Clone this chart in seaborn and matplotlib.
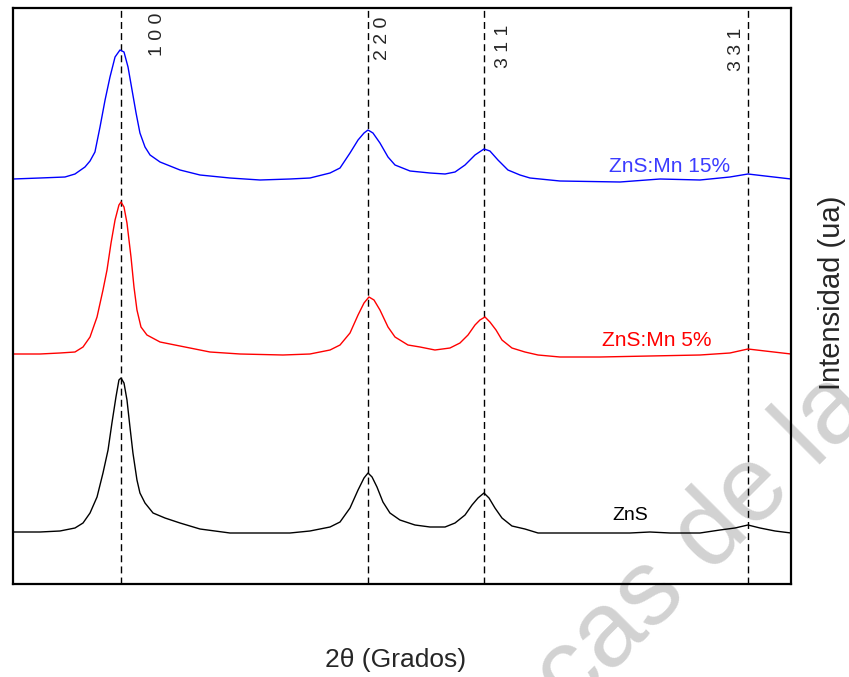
import matplotlib
matplotlib.use("Agg")
import matplotlib.pyplot as plt
import numpy as np
import pandas as pd
import seaborn as sns

# --- Diffraction patterns (2-theta in degrees, intensity in arbitrary units) ---
tt_zns = [20.00, 22.08, 23.62, 24.78, 25.40, 25.94, 26.48, 26.94, 27.33, 27.63,
          27.94, 28.17, 28.33, 28.56, 28.79, 29.02, 29.25, 29.56, 29.79, 30.18,
          30.80, 31.72, 32.88, 34.42, 36.73, 39.05, 41.36, 42.90, 44.45, 45.22,
          45.99, 46.61, 47.07, 47.38, 47.69, 48.07, 48.53, 49.07, 49.84, 51.00,
          52.16, 53.32, 54.09, 54.86, 55.40, 55.86, 56.32, 56.71, 57.17, 57.71,
          58.48, 59.48, 60.49, 62.95, 65.27, 67.58, 69.12, 70.67, 72.98, 74.52,
          75.68, 76.68, 77.61, 78.77, 80.00]
i_zns = [52, 52, 53, 56, 61, 71, 87, 111, 134, 161,
         187, 204, 206, 201, 184, 157, 131, 104, 91, 81,
         71, 66, 61, 55, 51, 51, 51, 53, 57, 62,
         76, 94, 106, 111, 107, 97, 82, 71, 64, 59,
         57, 57, 61, 69, 79, 86, 91, 86, 76, 66,
         58, 55, 51, 51, 51, 51, 52, 51, 51, 54,
         56, 59, 56, 53, 51]

tt_mn5 = [20.00, 22.08, 23.62, 24.78, 25.40, 25.94, 26.48, 26.94, 27.25, 27.56,
          27.87, 28.17, 28.33, 28.56, 28.79, 29.10, 29.33, 29.56, 29.87, 30.33,
          31.34, 32.49, 33.65, 35.19, 37.51, 40.82, 42.90, 44.45, 45.22, 45.99,
          46.61, 47.07, 47.45, 47.84, 48.30, 48.92, 49.46, 50.46, 51.39, 52.54,
          53.70, 54.47, 55.09, 55.63, 56.01, 56.40, 56.78, 57.25, 57.71, 58.48,
          59.48, 60.49, 62.18, 65.27, 69.12, 72.98, 75.29, 76.68, 78.00, 80.00]
i_mn5 = [50, 50, 51, 52, 57, 67, 87, 114, 134, 161,
         184, 199, 202, 197, 181, 147, 117, 94, 77, 69,
         62, 59, 56, 52, 50, 49, 50, 54, 59, 71,
         89, 101, 107, 104, 94, 77, 67, 59, 57, 54,
         56, 61, 69, 79, 84, 87, 82, 74, 64, 56,
         52, 49, 47, 47, 48, 49, 51, 55, 53, 50]

tt_mn15 = [20.00, 22.08, 24.01, 24.78, 25.55, 25.94, 26.32, 26.71, 27.10, 27.48,
           27.87, 28.25, 28.56, 28.87, 29.18, 29.49, 29.79, 30.18, 30.57, 31.34,
           32.88, 34.42, 36.73, 39.05, 41.36, 42.90, 44.45, 45.22, 45.99, 46.61,
           47.07, 47.38, 47.76, 48.30, 48.92, 49.46, 50.62, 52.16, 53.32, 54.09,
           54.86, 55.63, 56.32, 56.78, 57.40, 58.17, 59.10, 59.87, 62.18, 66.81,
           69.90, 72.98, 75.29, 76.68, 78.00, 80.00]
i_mn15 = [45, 46, 47, 50, 57, 63, 72, 97, 124, 147,
          167, 174, 172, 157, 134, 111, 91, 77, 69, 62,
          54, 49, 46, 44, 45, 46, 51, 56, 71, 84,
          91, 94, 91, 81, 67, 59, 53, 51, 50, 52,
          59, 69, 75, 73, 64, 54, 49, 46, 43, 42,
          45, 44, 47, 50, 48, 45]

samples = ["ZnS", "ZnS:Mn 5%", "ZnS:Mn 15%"]
colors = ["black", "red", "blue"]

# Reflections marked with dashed guides
hkl_labels = ["1 0 0", "2 2 0", "3 1 1", "3 3 1"]
hkl_positions = [28.33, 47.38, 56.32, 76.68]

sns.set_style("white")
plt.rcParams["font.family"] = ["Liberation Sans", "DejaVu Sans"]

fig = plt.figure(figsize=(8.49, 6.77), dpi=100)
ax = fig.add_axes([13 / 849, 1 - 584 / 677, 778 / 849, 576 / 677])

stack_offset = [0, 180, 360]
patterns = [(tt_zns, i_zns), (tt_mn5, i_mn5), (tt_mn15, i_mn15)]
frames = []
for name, (tt, inten), off in zip(samples, patterns, stack_offset):
    frames.append(pd.DataFrame({"2theta": tt,
                                "intensity": np.asarray(inten) + off,
                                "sample": name}))
df = pd.concat(frames, ignore_index=True)

sns.lineplot(data=df, x="2theta", y="intensity", hue="sample",
             palette=dict(zip(samples, colors)), estimator=None,
             linewidth=1.0, legend=False, ax=ax)

for pos in hkl_positions:
    ax.axvline(pos, color="black", linewidth=1.0, linestyle=(0, (5, 3)), zorder=1.5)

# hkl annotations next to each guide
hkl_text_pos = [(31.18, 550), (48.53, 546), (57.79, 538), (75.76, 535)]
for lab, (xt, yt) in zip(hkl_labels, hkl_text_pos):
    ax.text(xt, yt, lab, rotation=90, ha="center", va="center", fontsize=14)

# sample names
ax.text(70.67, 417, "ZnS:Mn 15%", color="#3b3bff", fontsize=15, ha="center", va="center")
ax.text(69.66, 244, "ZnS:Mn 5%", color="red", fontsize=15, ha="center", va="center")
ax.text(67.58, 69, "ZnS", color="black", fontsize=14, ha="center", va="center")

ax.set_xlim(20, 80)
ax.set_ylim(0, 576)
ax.set_xticks([])
ax.set_yticks([])
ax.set_xlabel("")
ax.set_ylabel("")
for sp in ax.spines.values():
    sp.set_color("black")
    sp.set_linewidth(1.6)

fig.text(396 / 849, 1 - 660 / 677, "2θ (Grados)", fontsize=19, ha="center", va="center")
fig.text(832 / 849, 1 - 293 / 677, "Intensidad (ua)", fontsize=21, rotation=90,
         ha="center", va="center")

# faint watermark running diagonally across the lower right corner
ax.text(571 / 849, 1 - 713 / 677, "cas de la", transform=fig.transFigure,
        rotation=45, rotation_mode="anchor", ha="left", va="baseline",
        fontsize=77, color="#d2d2d2", zorder=1, clip_on=False)

fig.savefig("out.png", dpi=100)
